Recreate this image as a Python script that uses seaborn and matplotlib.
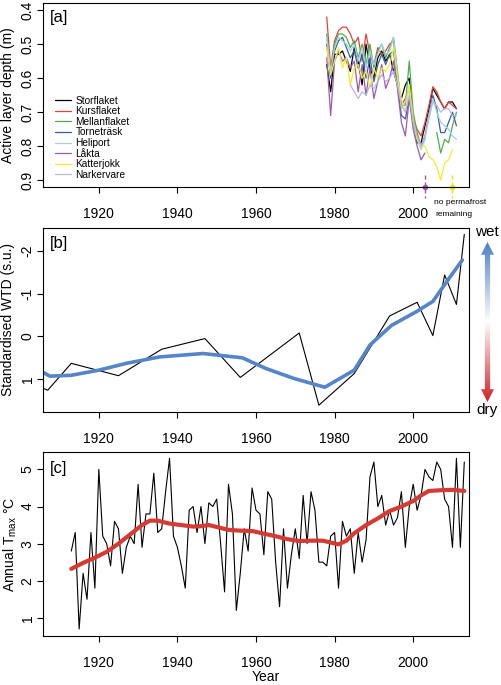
import numpy as np
import pandas as pd
import matplotlib
matplotlib.use("Agg")
import matplotlib.pyplot as plt
from matplotlib.colors import LinearSegmentedColormap
from matplotlib.patches import Polygon
import seaborn as sns

sns.set_style("ticks")
plt.rcParams['font.family'] = ['Liberation Sans', 'DejaVu Sans']
plt.rcParams['mathtext.fontset'] = 'custom'
plt.rcParams['mathtext.rm'] = 'Liberation Sans'
plt.rcParams['mathtext.it'] = 'Liberation Sans:italic'
plt.rcParams['axes.unicode_minus'] = False
plt.rcParams['axes.edgecolor'] = 'black'
plt.rcParams['axes.linewidth'] = 0.8
plt.rcParams['text.color'] = 'black'
plt.rcParams['axes.labelcolor'] = 'black'
plt.rcParams['xtick.color'] = 'black'
plt.rcParams['ytick.color'] = 'black'

nan = np.nan

# ---------------------------------------------------------------------------
# [a] active layer depth, 1978-2011
# ---------------------------------------------------------------------------
alt_years = list(range(1978, 2012))
sites = ['Storflaket', 'Kursflaket', 'Mellanflaket', 'Torneträsk',
         'Heliport', 'Låkta', 'Katterjokk', 'Narkervare']
site_colors = ['black', '#e8413a', '#4daf4a', '#3b5ba5',
               '#9fd3e8', '#9b59b6', '#f2ee2a', '#b8b8e0']

storflaket = [0.56, 0.64, 0.53, 0.53, 0.52, 0.55, 0.58, 0.51, 0.55, 0.62, 0.50,
              0.57, 0.60, 0.54, 0.52, 0.55, 0.53, 0.58, 0.62, 0.66, 0.62, 0.60,
              0.72, 0.79, 0.79, 0.74, 0.69, 0.63, 0.65, 0.67, 0.69, 0.67, 0.67, 0.69]
kursflaket = [0.42, 0.57, 0.49, 0.46, 0.45, 0.45, 0.47, 0.50, 0.48, 0.55, 0.47,
              0.53, 0.56, 0.51, 0.53, 0.52, 0.50, 0.49, 0.60, 0.68, 0.66, 0.63,
              0.72, 0.75, 0.77, 0.73, 0.68, 0.625, 0.64, 0.67, 0.69, 0.67, 0.68, 0.69]
mellanflaket = [0.47, 0.60, 0.50, 0.47, 0.47, 0.48, 0.51, 0.49, 0.54, 0.50, 0.56,
                0.50, 0.57, 0.52, 0.50, 0.54, 0.51, 0.48, 0.58, 0.68, 0.68, 0.55,
                0.70, 0.76, 0.80, 0.78, nan, nan, 0.76, 0.82, 0.78, 0.79, 0.74, 0.70]
tornetrask = [0.50, 0.60, 0.52, 0.49, 0.48, 0.51, 0.54, 0.52, 0.57, 0.53, 0.60,
              0.54, 0.61, 0.56, 0.53, 0.56, 0.53, 0.52, 0.62, 0.71, 0.72, 0.66,
              0.73, 0.77, 0.80, 0.77, 0.71, 0.65, 0.69, 0.76, 0.76, 0.73, 0.70, 0.74]
heliport = [0.48, 0.58, 0.51, 0.48, 0.49, 0.50, 0.52, 0.50, 0.55, 0.51, 0.57,
            0.52, 0.56, 0.53, 0.50, 0.53, 0.52, 0.48, 0.59, 0.69, 0.67, 0.62,
            0.74, 0.78, 0.81, 0.78, 0.71, 0.66, 0.70, 0.73, 0.74, 0.75, 0.77, 0.78]
lakta = [0.54, 0.71, 0.55, 0.52, 0.55, 0.54, 0.57, 0.55, 0.64, 0.56, 0.65,
         0.57, 0.66, 0.61, 0.56, 0.63, 0.60, 0.55, 0.63, 0.73, 0.77, 0.66,
         0.75, 0.80, 0.84, 0.82, nan, nan, nan, nan, nan, nan, nan, nan]
katterjokk = [0.51, 0.59, 0.55, 0.51, 0.57, 0.54, 0.62, 0.57, 0.56, 0.60, 0.58,
              0.63, 0.57, 0.60, 0.57, 0.58, 0.56, 0.51, 0.60, 0.66, 0.70, 0.62,
              0.72, 0.78, 0.80, 0.80, 0.83, 0.84, 0.86, 0.90, 0.85, 0.84, 0.81, nan]
narkervare = [nan, nan, nan, nan, nan, nan, 0.62, 0.64, 0.66, 0.64, 0.65,
              0.62, 0.63, 0.61, 0.59, 0.61, 0.60, 0.58, 0.62, 0.68, 0.70, 0.65,
              0.73, 0.77, 0.80, 0.77, 0.72, 0.67, 0.68, 0.70, 0.69, 0.69, 0.71, 0.71]
site_values = [storflaket, kursflaket, mellanflaket, tornetrask,
               heliport, lakta, katterjokk, narkervare]

# years in which permafrost disappeared (Låkta, Katterjokk)
lost_years = [2003, 2010]
lost_colors = ['#9b59b6', '#e8e41a']

# ---------------------------------------------------------------------------
# [b] standardised water table depth
# ---------------------------------------------------------------------------
wtd_years = [1906, 1907, 1913, 1925, 1936, 1947, 1956, 1971, 1976, 1985,
             1994, 2001, 2005, 2008, 2011, 2013]
wtd_values = [1.22, 1.26, 0.63, 0.92, 0.30, 0.05, 0.96, -0.08, 1.61, 0.87,
              -0.48, -0.80, -0.02, -1.44, -0.75, -2.39]
wtd_smooth_years = [1906, 1907.5, 1913, 1920, 1927, 1935.5, 1946.5, 1956.5,
                    1962.5, 1969.5, 1977.5, 1985, 1989, 1994.5, 2001, 2005,
                    2008.5, 2012.5]
wtd_smooth = [0.85, 0.93, 0.91, 0.79, 0.63, 0.48, 0.40, 0.50, 0.75, 0.98,
              1.19, 0.79, 0.20, -0.26, -0.59, -0.82, -1.28, -1.79]

# ---------------------------------------------------------------------------
# [c] annual Tmax, 1913-2013
# ---------------------------------------------------------------------------
tmax_years = list(range(1913, 2014))
tmax = [2.8, 3.3, 0.7, 2.2, 1.5, 3.3, 1.8,                        # 1913-1919
        5.0, 3.2, 3.0, 2.4, 3.6, 3.4, 2.2, 2.9, 3.2, 3.0,         # 1920s
        4.6, 2.9, 3.8, 3.8, 4.9, 3.3, 3.4, 4.4, 5.3, 3.2,         # 1930s
        2.9, 2.4, 1.8, 3.9, 4.0, 3.3, 4.0, 3.0, 4.1, 4.0,         # 1940s
        4.2, 3.0, 1.7, 4.6, 3.8, 1.2, 2.2, 3.4, 2.8, 4.5,         # 1950s
        3.9, 3.8, 2.7, 4.4, 4.2, 2.5, 1.3, 3.4, 1.8, 2.7,         # 1960s
        3.4, 2.6, 4.3, 3.0, 4.4, 3.9, 2.5, 2.5, 2.4, 3.2,         # 1970s
        3.3, 1.8, 3.6, 3.2, 3.4, 2.2, 3.3, 2.5, 3.1, 4.8,         # 1980s
        5.2, 4.0, 4.3, 3.5, 3.9, 3.5, 3.7, 4.4, 2.9, 4.0,         # 1990s
        4.6, 3.9, 4.3, 5.0, 4.8, 4.7, 5.2, 5.0, 4.2, 4.0,         # 2000s
        2.9, 5.3, 2.9, 5.2]                                       # 2010-2013
tmax_smooth_years = [1913, 1916, 1919, 1922, 1925, 1928, 1931, 1933, 1935,
                     1938, 1941, 1944, 1946, 1948, 1950, 1953, 1956, 1959,
                     1962, 1965, 1968, 1971, 1974, 1977, 1979, 1981, 1983,
                     1985, 1988, 1991, 1994, 1997, 2000, 2002, 2004, 2007,
                     2010, 2013]
tmax_smooth = [2.32, 2.48, 2.62, 2.78, 3.00, 3.25, 3.50, 3.62, 3.62, 3.54,
               3.50, 3.46, 3.47, 3.50, 3.45, 3.37, 3.35, 3.34, 3.27, 3.20,
               3.12, 3.07, 3.08, 3.08, 3.03, 2.98, 3.08, 3.28, 3.50, 3.68,
               3.88, 4.00, 4.15, 4.30, 4.42, 4.44, 4.45, 4.42]

# ---------------------------------------------------------------------------
# figure
# ---------------------------------------------------------------------------
W, H = 502, 685
fig = plt.figure(figsize=(W / 100, H / 100), dpi=100)


def px_axes(left, top, right, bottom):
    return fig.add_axes([left / W, 1 - bottom / H, (right - left) / W, (bottom - top) / H])


ax_a = px_axes(43, 3, 469, 187)
ax_b = px_axes(43, 228, 469, 412)
ax_c = px_axes(43, 452, 469, 636)

xlim = (1905.8, 2014.2)
xticks = [1920, 1940, 1960, 1980, 2000]


def style_axes(ax, label_x=-0.066):
    ax.set_xlim(*xlim)
    ax.set_xticks(xticks)
    for side in ['top', 'right', 'left', 'bottom']:
        ax.spines[side].set_visible(True)
        ax.spines[side].set_linewidth(0.8)
    ax.tick_params(axis='x', direction='out', length=4.5, width=0.8, labelsize=10, pad=10)
    ax.tick_params(axis='y', direction='out', length=4.5, width=0.8, labelsize=10, pad=1.5,
                   labelrotation=90)
    for lab in ax.get_yticklabels():
        lab.set_va('center')
    ax.set_xlabel('')
    ax.yaxis.set_label_coords(label_x, 0.5)


# --- panel a ---------------------------------------------------------------
rows = []
for name, vals in zip(sites, site_values):
    seg = 0
    for yr, v in zip(alt_years, vals):
        if np.isnan(v):
            seg += 1
            continue
        rows.append({'year': yr, 'depth': v, 'site': name, 'seg': seg})
alt_df = pd.DataFrame(rows)

sns.lineplot(data=alt_df, x='year', y='depth', hue='site', hue_order=sites,
             palette=dict(zip(sites, site_colors)), units='seg', estimator=None,
             linewidth=0.9, ax=ax_a)
ax_a.set_ylim(0.92, 0.379)
ax_a.set_yticks([0.4, 0.5, 0.6, 0.7, 0.8, 0.9])
ax_a.set_yticklabels(['0.4', '0.5', '0.6', '0.7', '0.8', '0.9'])
ax_a.set_ylabel('Active layer depth (m)', fontsize=10)
style_axes(ax_a)

handles, labels = ax_a.get_legend_handles_labels()
ax_a.legend(handles, labels, loc='lower left', bbox_to_anchor=(0.012, 0.0),
            frameon=False, fontsize=7.3, handlelength=1.6, handletextpad=0.4,
            labelspacing=0.06, borderpad=0.2)

for yr, col in zip(lost_years, lost_colors):
    ax_a.plot([yr, yr], [0.885, 0.952], ls=(0, (3, 2)), color=col, lw=1.0, clip_on=False)
    ax_a.plot([yr], [0.92], marker='o', ms=3, color=col, clip_on=False)

ax_a.text(0.016, 0.92, '[a]', transform=ax_a.transAxes, fontsize=12, ha='left', va='center')
fig.text(434 / W, 1 - 203 / H, 'no permafrost', fontsize=6, ha='left', va='center')
fig.text(435 / W, 1 - 215 / H, 'remaining', fontsize=6, ha='left', va='center')

# --- panel b ---------------------------------------------------------------
sns.lineplot(x=wtd_years, y=wtd_values, color='black', linewidth=0.8,
             estimator=None, ax=ax_b)
sns.lineplot(x=wtd_smooth_years, y=wtd_smooth, color='#5585c8', linewidth=2.6,
             estimator=None, ax=ax_b)
ax_b.set_ylim(1.77, -2.54)
ax_b.set_yticks([-2, -1, 0, 1])
ax_b.set_yticklabels(['-2', '-1', '0', '1'])
ax_b.set_ylabel('Standardised WTD (s.u.)', fontsize=10)
style_axes(ax_b)
ax_b.text(0.016, 0.918, '[b]', transform=ax_b.transAxes, fontsize=12, ha='left', va='center')

# wet / dry arrow
ax_arr = fig.add_axes([481 / W, 1 - 402 / H, 13 / W, 160 / H])
ax_arr.set_xlim(0, 1)
ax_arr.set_ylim(0, 1)
ax_arr.axis('off')
wd_cmap = LinearSegmentedColormap.from_list('wetdry', ['#d21f26', 'white', '#4f7fc4'])
grad = np.linspace(0, 1, 256).reshape(-1, 1)
im = ax_arr.imshow(grad, cmap=wd_cmap, origin='lower', extent=[0, 1, 0, 1], aspect='auto')
arrow = Polygon([(0.5, 1), (0.0, 0.92), (0.3, 0.92), (0.3, 0.08), (0.0, 0.08),
                 (0.5, 0.0), (1.0, 0.08), (0.7, 0.08), (0.7, 0.92), (1.0, 0.92)],
                closed=True, transform=ax_arr.transData, facecolor='none', edgecolor='none')
ax_arr.add_patch(arrow)
im.set_clip_path(arrow)
fig.text(487 / W, 1 - 232 / H, 'wet', fontsize=11, ha='center', va='center')
fig.text(487 / W, 1 - 410 / H, 'dry', fontsize=11, ha='center', va='center')

# --- panel c ---------------------------------------------------------------
sns.lineplot(x=tmax_years, y=tmax, color='black', linewidth=0.8, estimator=None, ax=ax_c)
sns.lineplot(x=tmax_smooth_years, y=tmax_smooth, color='#d63a34', linewidth=3.0,
             estimator=None, ax=ax_c)
ax_c.set_ylim(0.51, 5.47)
ax_c.set_yticks([1, 2, 3, 4, 5])
ax_c.set_yticklabels(['1', '2', '3', '4', '5'])
ax_c.set_ylabel('Annual T$_{\\rm max}$ °C', fontsize=10)
style_axes(ax_c, label_x=-0.056)
fig.text(266 / W, 1 - 677 / H, 'Year', fontsize=10, ha='center', va='center')
ax_c.text(0.016, 0.913, '[c]', transform=ax_c.transAxes, fontsize=12, ha='left', va='center')

fig.savefig('out.png', dpi=100)
